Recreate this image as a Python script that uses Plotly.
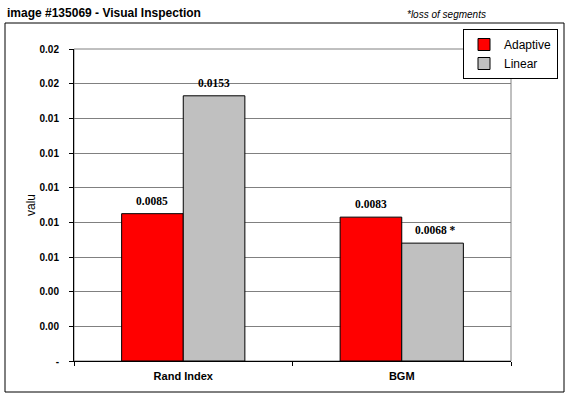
import plotly.graph_objects as go

categories = ["Rand Index", "BGM"]
adaptive = [0.0085, 0.0083]
linear = [0.0153, 0.0068]
adaptive_labels = ["0.0085", "0.0083"]
linear_labels = ["0.0153", "0.0068 *"]
tick_vals = [0, 0.002, 0.004, 0.006, 0.008, 0.010, 0.012, 0.014, 0.016, 0.018]
tick_text = ["-", "0.00", "0.00", "0.01", "0.01", "0.01", "0.01", "0.01", "0.02", "0.02"]

W, H = 573, 399
L, R, T, B = 74, 511, 49, 361  # plot area pixel bounds
pw, ph = R - L, B - T

def px(x):
    return (x - L) / pw

def py(y):
    return (B - y) / ph

fig = go.Figure()
fig.add_trace(go.Bar(name="Adaptive", x=categories, y=adaptive,
                     marker=dict(color="#FF0000", line=dict(color="black", width=1))))
fig.add_trace(go.Bar(name="Linear", x=categories, y=linear,
                     marker=dict(color="#C0C0C0", line=dict(color="black", width=1))))

bar_w = 62
for i, c in enumerate(categories):
    for vals, labs, sh in ((adaptive, adaptive_labels, -bar_w / 2), (linear, linear_labels, bar_w / 2)):
        extra = 3 if "*" in labs[i] else 0
        fig.add_annotation(x=c, y=vals[i], text="<b>" + labs[i] + "</b>", showarrow=False,
                           xshift=sh + extra, yshift=13, yanchor="middle",
                           font=dict(family="Liberation Serif", size=11.5, color="black"))

# outer chart border
fig.add_shape(type="rect", xref="paper", yref="paper",
              x0=px(5), x1=px(564), y0=py(392), y1=py(23),
              line=dict(color="black", width=1), layer="below")
# plot area border (gray)
fig.add_shape(type="rect", xref="paper", yref="paper",
              x0=0, x1=1, y0=0, y1=1,
              line=dict(color="#808080", width=1), layer="below")

fig.add_annotation(xref="paper", yref="paper", x=px(5), y=py(13.5), xanchor="left", yanchor="middle",
                   text="<b>image #135069 - Visual Inspection</b>", showarrow=False,
                   font=dict(family="Arial", size=12, color="black"))
fig.add_annotation(xref="paper", yref="paper", x=px(488), y=py(15), xanchor="right", yanchor="middle",
                   text="<i>*loss of segments</i>", showarrow=False,
                   font=dict(family="Arial", size=10, color="black"))
fig.add_annotation(xref="paper", yref="paper", x=px(31), y=py(205), xanchor="center", yanchor="middle",
                   text="valu", textangle=-90, showarrow=False,
                   font=dict(family="Arial", size=12, color="black"))

fig.update_layout(
    width=W, height=H,
    margin=dict(l=L, r=W - R, t=T, b=H - B, pad=0),
    plot_bgcolor="white", paper_bgcolor="white",
    barmode="group", bargap=0.436, bargroupgap=0,
    font=dict(family="Arial", color="black"),
    legend=dict(x=px(558), y=py(29), xanchor="right", yanchor="top",
                bgcolor="white", bordercolor="black", borderwidth=1,
                font=dict(family="Arial", size=12, color="black"),
                itemwidth=30, tracegroupgap=0),
    showlegend=True,
)
fig.update_xaxes(showline=True, linecolor="black", linewidth=1,
                 ticks="outside", tickson="boundaries", ticklen=4, tickcolor="black",
                 tickfont=dict(family="Arial", size=11, color="black", weight="bold"),
                 ticklabelstandoff=5, showgrid=False)
fig.update_yaxes(range=[0, 0.018], showline=True, linecolor="black", linewidth=1,
                 tickvals=tick_vals, ticktext=tick_text,
                 ticks="outside", ticklen=4, tickcolor="black",
                 tickfont=dict(family="Arial", size=10, color="black", weight="bold"),
                 ticklabelstandoff=8,
                 showgrid=True, gridcolor="#808080", gridwidth=1, zeroline=False)

fig.write_html("out.html", config={"displayModeBar": False},
               post_script="document.body.style.margin='0';")
